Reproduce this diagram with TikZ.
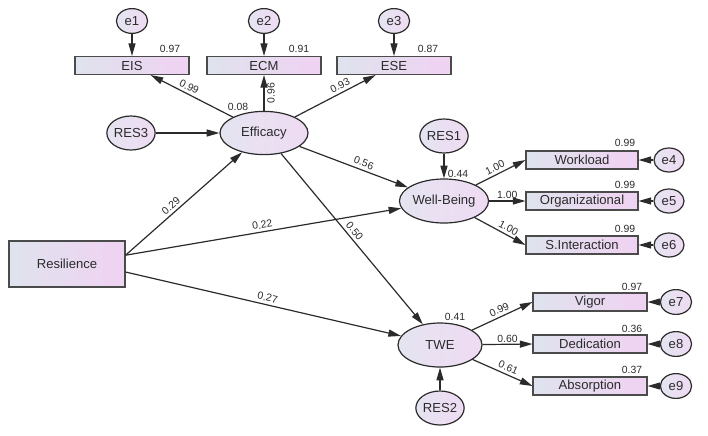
\documentclass[tikz,border=0pt]{standalone}
\usepackage{fontspec}
\setmainfont{Liberation Sans}
\usetikzlibrary{arrows.meta, shapes.geometric}
\definecolor{boxleft}{HTML}{DFE3ED}
\definecolor{boxright}{HTML}{F0D2F2}
\definecolor{latleft}{HTML}{E5E4F1}
\definecolor{latright}{HTML}{EFDBF3}
\definecolor{ink}{HTML}{2B2B2B}

\begin{document}
\begin{tikzpicture}[x=0.025cm, y=-0.025cm, line width=0.85pt,
    obs/.style={draw=ink!85, line width=0.75pt, rectangle, left color=boxleft, right color=boxright,
        minimum width=2.85cm, minimum height=0.45cm, inner sep=0pt, text=ink,
        font=\fontsize{9.3}{11}\selectfont},
    lat/.style={draw=ink, ellipse, left color=latleft, right color=latright,
        minimum width=2.2cm, minimum height=1.08cm, inner sep=0pt, text=ink,
        font=\fontsize{9.3}{11}\selectfont},
    res/.style={lat, minimum width=1.18cm, minimum height=0.85cm},
    err/.style={lat, minimum width=0.78cm, minimum height=0.62cm},
    path/.style={draw=ink, -{Triangle[length=9pt,width=5pt]}},
    coef/.style={font=\fontsize{7.4}{9}\selectfont, text=ink, inner sep=1pt}]
    \useasboundingbox (0,0) rectangle (708,435);

    % exogenous variable
    \node[obs, minimum width=2.9cm, minimum height=1.15cm] (resil) at (67,264) {Resilience};

    % latent factors and their residuals
    \node[lat] (eff) at (264,133) {Efficacy};
    \node[lat, minimum width=2.18cm, minimum height=1.1cm] (wb) at (444,201) {Well-Being};
    \node[lat, minimum width=2.1cm, minimum height=1.1cm] (twe) at (440,345) {TWE};
    \node[res] (res3) at (131,133) {RES3};
    \node[res] (res1) at (444,136) {RES1};
    \node[res] (res2) at (440,408) {RES2};

    % efficacy indicators
    \node[obs] (eis) at (132,65.5) {EIS};
    \node[obs] (ecm) at (264,65.5) {ECM};
    \node[obs] (ese) at (394,65.5) {ESE};
    \node[err] (e1) at (132,21) {e1};
    \node[err] (e2) at (264,21) {e2};
    \node[err] (e3) at (394,21) {e3};

    % well-being indicators
    \node[obs, minimum width=2.8cm] (wl) at (582,160) {Workload};
    \node[obs, minimum width=2.8cm] (org) at (582,201) {Organizational};
    \node[obs, minimum width=2.8cm] (si) at (582,245) {S.Interaction};
    \node[err, minimum width=0.75cm, minimum height=0.6cm] (e4) at (669,160) {e4};
    \node[err, minimum width=0.75cm, minimum height=0.6cm] (e5) at (669,201) {e5};
    \node[err, minimum width=0.75cm, minimum height=0.6cm] (e6) at (669,245) {e6};

    % work engagement indicators
    \node[obs] (vig) at (590,302) {Vigor};
    \node[obs] (ded) at (590,344) {Dedication};
    \node[obs] (abs) at (590,386) {Absorption};
    \node[err] (e7) at (676,302) {e7};
    \node[err] (e8) at (676,344) {e8};
    \node[err] (e9) at (676,386) {e9};

    % squared multiple correlations
    \node[coef] (r1) at (170,49) {0.97};
    \node[coef] (r2) at (299,49) {0.91};
    \node[coef] (r3) at (428,49) {0.87};
    \node[coef] (reff) at (238,107) {0.08};
    \node[coef] (rwb) at (458,174) {0.44};
    \node[coef] (rtwe) at (455,317) {0.41};
    \node[coef] (r4) at (625,143) {0.99};
    \node[coef] (r5) at (625,185) {0.99};
    \node[coef] (r6) at (625,229) {0.99};
    \node[coef] (r7) at (632,287) {0.97};
    \node[coef] (r8) at (632,329) {0.36};
    \node[coef] (r9) at (632,370) {0.37};

    % structural paths
    \draw[path] ([yshift=0.22cm]resil.east) -- (eff) node[coef, pos=0.43, sloped, above=1pt] {0.29};
    \draw[path] ([yshift=0.22cm]resil.east) -- (wb) node[coef, pos=0.5, sloped, above=1pt] {0.22};
    \draw[path] ([yshift=-0.2cm]resil.east) -- (twe) node[coef, pos=0.51, sloped, above=1pt] {0.27};
    \draw[path] (eff) -- (wb) node[coef, pos=0.57, sloped, above=1pt] {0.56};
    \draw[path] (eff) -- (twe) node[coef, pos=0.48, sloped, above=1pt] {0.50};
    \draw[path] (res3) -- (eff);
    \draw[path] (res1) -- (wb);
    \draw[path] (res2) -- (twe);

    % loadings
    \draw[path] (eff) -- (eis) node[coef, pos=0.57, sloped, above=1pt] {0.99};
    \draw[path] (eff) -- (ecm) node[coef, pos=0.5, sloped, below=1pt] {0.96};
    \draw[path] (eff) -- (ese) node[coef, pos=0.6, sloped, above=1pt] {0.93};
    \draw[path] (wb) -- (wl.west) node[coef, pos=0.45, sloped, above=1pt] {1.00};
    \draw[path] (wb) -- (org.west) node[coef, pos=0.5, above] {1.00};
    \draw[path] (wb) -- (si.west) node[coef, pos=0.6, sloped, above=1pt] {1.00};
    \draw[path] (twe) -- (vig.west) node[coef, pos=0.5, sloped, above=1pt] {0.99};
    \draw[path] (twe) -- (ded.west) node[coef, pos=0.5, above] {0.60};
    \draw[path] (twe) -- (abs.west) node[coef, pos=0.55, sloped, above=1pt] {0.61};

    % measurement errors
    \draw[path] (e1) -- (eis);
    \draw[path] (e2) -- (ecm);
    \draw[path] (e3) -- (ese);
    \draw[path] (e4) -- (wl);
    \draw[path] (e5) -- (org);
    \draw[path] (e6) -- (si);
    \draw[path] (e7) -- (vig);
    \draw[path] (e8) -- (ded);
    \draw[path] (e9) -- (abs);
\end{tikzpicture}
\end{document}
